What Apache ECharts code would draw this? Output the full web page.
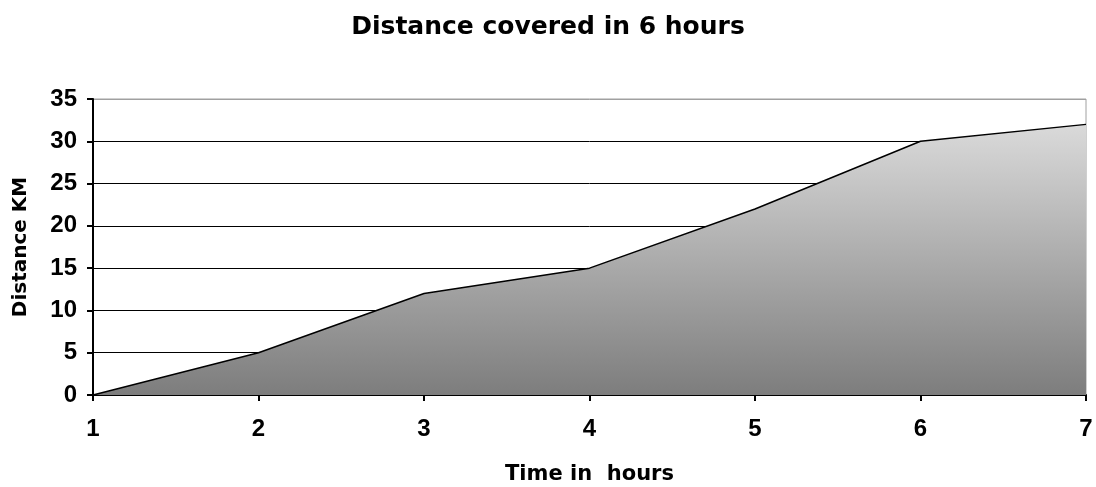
<!DOCTYPE html>
<html>
<head>
<meta charset="utf-8">
<style>
  html, body { margin: 0; padding: 0; background: #fff; }
  #main { width: 1096px; height: 487px; }
</style>
<script src="https://cdn.jsdelivr.net/npm/echarts@6/dist/echarts.min.js"></script>
</head>
<body>
<div id="main"></div>
<script>
// 数据
var hours = ['1', '2', '3', '4', '5', '6', '7'];
var distance = [0, 5, 12, 15, 22, 30, 32];
var yTicks = [0, 5, 10, 15, 20, 25, 30, 35];

var wideFont = 'DejaVu Sans, Verdana, sans-serif';
var numFont = 'Liberation Sans, Arial, sans-serif';
var myChart = echarts.init(document.getElementById('main'));

var option = {
    animation: false,
    backgroundColor: '#fff',
    title: {
        text: 'Distance covered in 6 hours',
        left: 'center',
        top: 10,
        textStyle: {
            fontFamily: wideFont,
            fontSize: 25,
            fontWeight: 'bold',
            color: '#000'
        }
    },
    grid: {
        left: 93,
        right: 10,
        top: 99,
        bottom: 92,
        outerBoundsMode: 'none',
        show: true,
        borderColor: '#a0a0a0',
        borderWidth: 1
    },
    xAxis: {
        type: 'category',
        boundaryGap: false,
        data: hours,
        name: 'Time in  hours',
        nameLocation: 'middle',
        nameGap: 69,
        nameTextStyle: {
            fontFamily: wideFont,
            fontSize: 21,
            fontWeight: 'bold',
            color: '#000'
        },
        axisLine: { lineStyle: { color: '#000', width: 2 } },
        axisTick: { show: true, length: 6, alignWithLabel: true, lineStyle: { color: '#000', width: 2 } },
        axisLabel: {
            margin: 22,
            fontFamily: numFont,
            fontSize: 24,
            fontWeight: 'bold',
            color: '#000'
        },
        splitLine: { show: false }
    },
    yAxis: {
        type: 'value',
        min: yTicks[0],
        max: yTicks[yTicks.length - 1],
        interval: 5,
        name: 'Distance KM',
        nameLocation: 'middle',
        nameGap: 62,
        nameRotate: 90,
        nameTextStyle: {
            fontFamily: wideFont,
            fontSize: 20,
            fontWeight: 'bold',
            color: '#000'
        },
        axisLine: { show: true, lineStyle: { color: '#000', width: 2 } },
        axisTick: { show: true, length: 6, lineStyle: { color: '#000', width: 2 } },
        axisLabel: {
            margin: 16,
            fontFamily: numFont,
            fontSize: 24,
            fontWeight: 'bold',
            color: '#000'
        },
        splitLine: {
            show: true,
            lineStyle: {
                color: ['#000', '#000', '#000', '#000', '#000', '#000', '#000', '#a0a0a0'],
                width: 1
            }
        }
    },
    series: [
        {
            name: 'Distance',
            type: 'line',
            data: distance,
            symbol: 'none',
            lineStyle: { color: '#000', width: 1.5 },
            areaStyle: {
                opacity: 1,
                color: new echarts.graphic.LinearGradient(0, 0, 0, 1, [
                    { offset: 0, color: '#dadada' },
                    { offset: 1, color: '#7d7d7d' }
                ])
            },
            z: 3
        }
    ]
};

myChart.setOption(option);
</script>
</body>
</html>
